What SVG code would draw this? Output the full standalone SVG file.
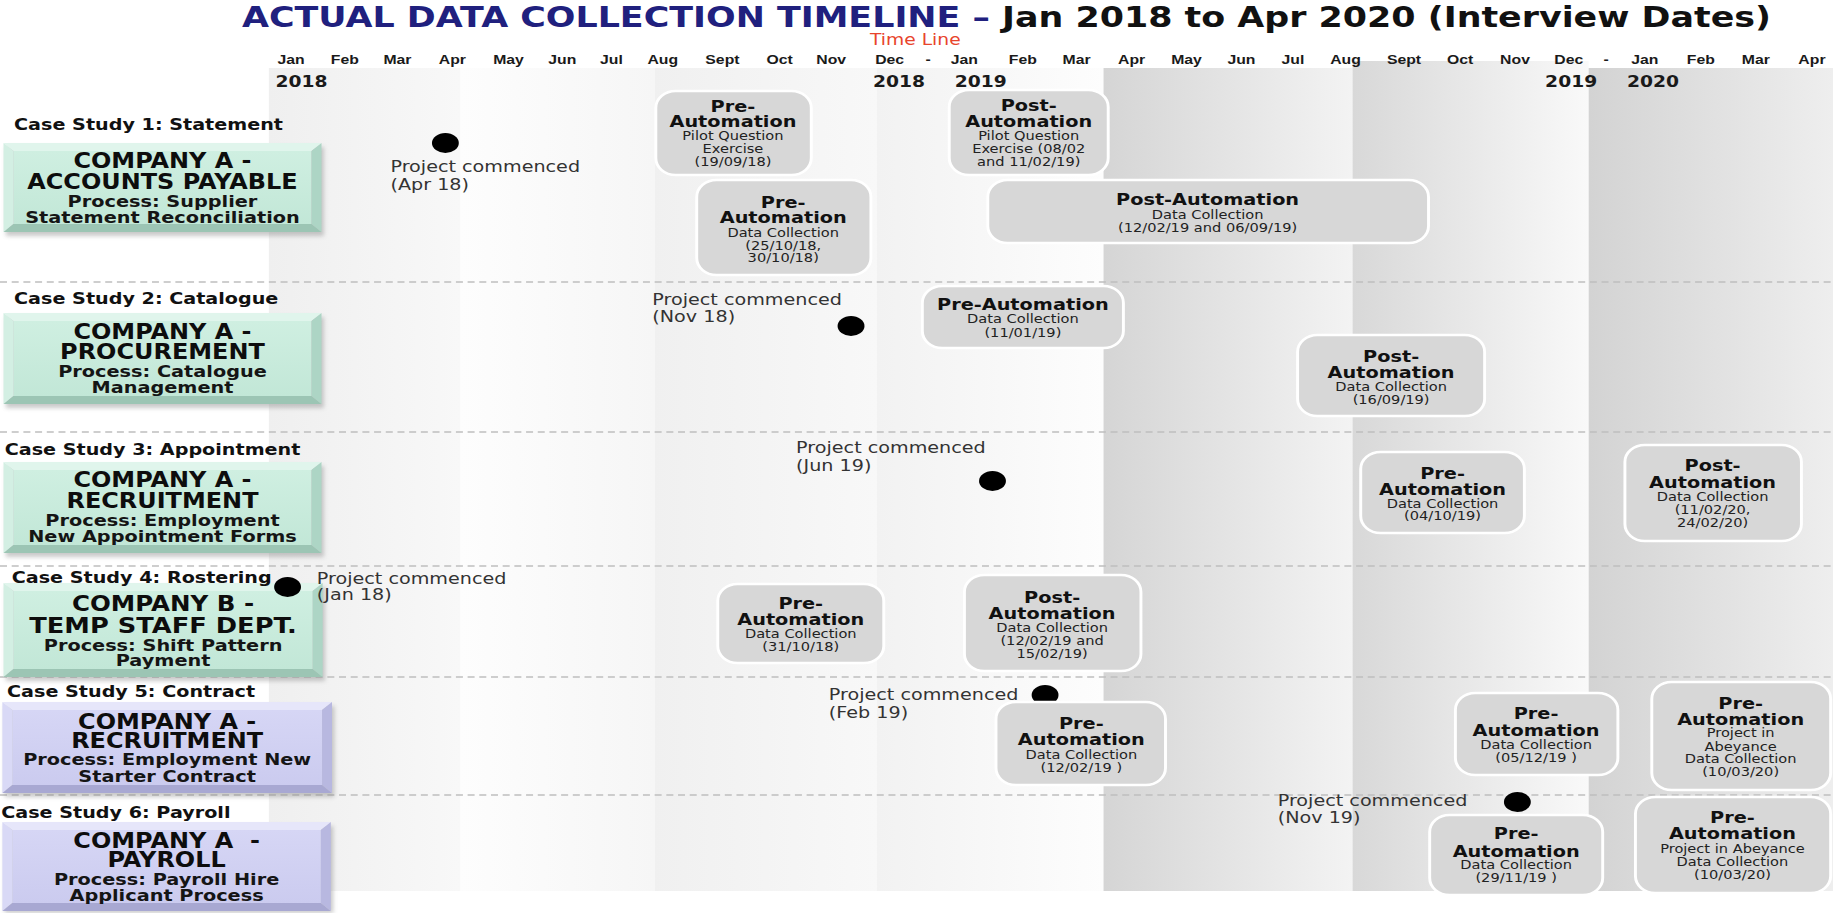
<svg xmlns="http://www.w3.org/2000/svg" width="1833" height="913" viewBox="0 0 1833 913">
<defs>
<style>
.title{font-family:"DejaVu Sans",Verdana,sans-serif;font-weight:bold;font-size:28px}
.mon{font-family:"Liberation Sans",Arial,sans-serif;font-weight:bold;font-size:13.5px;text-anchor:middle;fill:#1a1a1a}
.yr{font-family:"DejaVu Sans",Verdana,sans-serif;font-weight:bold;font-size:16px;text-anchor:middle;fill:#1a1a1a}
.tl{font-family:"DejaVu Sans",Verdana,sans-serif;font-size:16px;text-anchor:middle;fill:#e8442c}
.cs{font-family:"DejaVu Sans",Verdana,sans-serif;font-weight:bold;font-size:16.4px;fill:#111}
.cbig{font-family:"DejaVu Sans",Verdana,sans-serif;font-weight:bold;font-size:20.5px;text-anchor:middle;fill:#0d0d0d}
.csm{font-family:"DejaVu Sans",Verdana,sans-serif;font-weight:bold;font-size:16.5px;text-anchor:middle;fill:#151515}
.gb{fill:#d7d7d7;stroke:#fff;stroke-width:2.5}
.gh{font-family:"DejaVu Sans",Verdana,sans-serif;font-weight:bold;font-size:16.5px;text-anchor:middle;fill:#111}
.gs{font-family:"DejaVu Sans",Verdana,sans-serif;font-size:12.5px;text-anchor:middle;fill:#222}
.pc{font-family:"DejaVu Sans",Verdana,sans-serif;font-size:16.4px;fill:#333}
.dot{fill:#000}
.sep{stroke:#bfbfbf;stroke-width:1.3;stroke-dasharray:6 4;fill:none}
.g-top{fill:#e0f5ec}.g-left{fill:#d3efe3}.g-right{fill:#add5c5}.g-bot{fill:#9cc5b4}.g-face{fill:url(#faceG)}
.l-top{fill:#e6e6fa}.l-left{fill:#d9d9f6}.l-right{fill:#b8b8e0}.l-bot{fill:#a8a8d2}.l-face{fill:url(#faceL)}
.shadow{fill:#8a8a8a;opacity:.45;filter:url(#blur)}
.gshadow{fill:#9a9a9a;opacity:.25;filter:url(#blur)}
</style>
<linearGradient id="faceG" x1="0" y1="0" x2="0" y2="1"><stop offset="0" stop-color="#cfefe1"/><stop offset="1" stop-color="#c2e7d7"/></linearGradient>
<linearGradient id="faceL" x1="0" y1="0" x2="0" y2="1"><stop offset="0" stop-color="#d6d6f5"/><stop offset="1" stop-color="#cbcbef"/></linearGradient>
<linearGradient id="b1"><stop offset="0" stop-color="#efefef"/><stop offset="1" stop-color="#f8f8f8"/></linearGradient>
<linearGradient id="b2"><stop offset="0" stop-color="#fdfdfd"/><stop offset="1" stop-color="#f6f6f6"/></linearGradient>
<linearGradient id="b3"><stop offset="0" stop-color="#f0f0f0"/><stop offset="1" stop-color="#f8f8f8"/></linearGradient>
<linearGradient id="b4"><stop offset="0" stop-color="#f2f2f2"/><stop offset="1" stop-color="#fdfdfd"/></linearGradient>
<linearGradient id="b5"><stop offset="0" stop-color="#d5d5d5"/><stop offset="1" stop-color="#f3f3f3"/></linearGradient>
<linearGradient id="b6"><stop offset="0" stop-color="#d8d8d8"/><stop offset="1" stop-color="#f9f9f9"/></linearGradient>
<linearGradient id="b7"><stop offset="0" stop-color="#d3d3d3"/><stop offset="1" stop-color="#eeeeee"/></linearGradient>
<filter id="blur" x="-10%" y="-10%" width="120%" height="130%"><feGaussianBlur stdDeviation="2"/></filter>
</defs>
<rect width="1833" height="913" fill="#fff"/>
<!-- drawing laid out on a 1568-wide grid, stretched to the full width -->
<g transform="scale(1.169 1)">
<g id="quarter-bands">
<rect x="230" y="68" width="164" height="823" fill="url(#b1)"/>
<rect x="394" y="68" width="166" height="823" fill="url(#b2)"/>
<rect x="560" y="68" width="190" height="823" fill="url(#b3)"/>
<rect x="750" y="68" width="194" height="823" fill="url(#b4)"/>
<rect x="944" y="68" width="213" height="823" fill="url(#b5)"/>
<rect x="1157" y="61" width="202" height="830" fill="url(#b6)"/>
<rect x="1359" y="68" width="209" height="823" fill="url(#b7)"/>
</g>
<g id="row-separators">
<line class="sep" x1="0" y1="282" x2="1568" y2="282"/>
<line class="sep" x1="0" y1="432" x2="1568" y2="432"/>
<line class="sep" x1="0" y1="566" x2="1568" y2="566"/>
<line class="sep" x1="0" y1="677" x2="1568" y2="677"/>
<line class="sep" x1="0" y1="795" x2="1568" y2="795"/>
</g>
<g id="header">
<text class="title" x="207" y="27.5" textLength="1308" lengthAdjust="spacingAndGlyphs"><tspan fill="#20207e">ACTUAL DATA COLLECTION TIMELINE – </tspan><tspan fill="#111">Jan 2018 to Apr 2020 (Interview Dates)</tspan></text>
<text class="tl" x="783" y="45">Time Line</text>
<g class="mon">
<text class="mon" x="249" y="64">Jan</text><text class="mon" x="295" y="64">Feb</text><text class="mon" x="340" y="64">Mar</text><text class="mon" x="387" y="64">Apr</text>
<text class="mon" x="435" y="64">May</text><text class="mon" x="481" y="64">Jun</text><text class="mon" x="523" y="64">Jul</text><text class="mon" x="567" y="64">Aug</text>
<text class="mon" x="618" y="64">Sept</text><text class="mon" x="667" y="64">Oct</text><text class="mon" x="711" y="64">Nov</text><text class="mon" x="761" y="64">Dec</text>
<text class="mon" x="794" y="64">-</text>
<text class="mon" x="825" y="64">Jan</text><text class="mon" x="875" y="64">Feb</text><text class="mon" x="921" y="64">Mar</text><text class="mon" x="968" y="64">Apr</text>
<text class="mon" x="1015" y="64">May</text><text class="mon" x="1062" y="64">Jun</text><text class="mon" x="1106" y="64">Jul</text><text class="mon" x="1151" y="64">Aug</text>
<text class="mon" x="1201" y="64">Sept</text><text class="mon" x="1249" y="64">Oct</text><text class="mon" x="1296" y="64">Nov</text><text class="mon" x="1342" y="64">Dec</text>
<text class="mon" x="1374" y="64">-</text>
<text class="mon" x="1407" y="64">Jan</text><text class="mon" x="1455" y="64">Feb</text><text class="mon" x="1502" y="64">Mar</text><text class="mon" x="1550" y="64">Apr</text>
</g>
<text class="yr" x="258" y="87">2018</text>
<text class="yr" x="769" y="87">2018</text>
<text class="yr" x="839" y="87">2019</text>
<text class="yr" x="1344" y="87">2019</text>
<text class="yr" x="1414" y="87">2020</text>
</g>

<!-- company process boxes (bevelled) -->
<g id="company-1">
<rect class="shadow" x="5" y="147" width="272" height="89"/>
<g transform="translate(3 143)">
<rect class="g-face" x="8.5" y="8" width="255" height="73"/>
<polygon class="g-top" points="0,0 272,0 263.5,8 8.5,8"/>
<polygon class="g-left" points="0,0 8.5,8 8.5,81 0,89"/>
<polygon class="g-bot" points="0,89 8.5,81 263.5,81 272,89"/>
<polygon class="g-right" points="272,0 272,89 263.5,81 263.5,8"/>
</g>
<text class="cbig" x="139" y="168">COMPANY A -</text>
<text class="cbig" x="139" y="189.5">ACCOUNTS PAYABLE</text>
<text class="csm" x="139" y="207">Process: Supplier</text>
<text class="csm" x="139" y="223.5">Statement Reconciliation</text>
</g>
<g id="company-2">
<rect class="shadow" x="5" y="317" width="272" height="91"/>
<g transform="translate(3 313)">
<rect class="g-face" x="8.5" y="8" width="255" height="75"/>
<polygon class="g-top" points="0,0 272,0 263.5,8 8.5,8"/>
<polygon class="g-left" points="0,0 8.5,8 8.5,83 0,91"/>
<polygon class="g-bot" points="0,91 8.5,83 263.5,83 272,91"/>
<polygon class="g-right" points="272,0 272,91 263.5,83 263.5,8"/>
</g>
<text class="cbig" x="139" y="339.5">COMPANY A -</text>
<text class="cbig" x="139" y="359.5">PROCUREMENT</text>
<text class="csm" x="139" y="377">Process: Catalogue</text>
<text class="csm" x="139" y="393.5">Management</text>
</g>
<g id="company-3">
<rect class="shadow" x="5" y="466" width="272" height="91"/>
<g transform="translate(3 462)">
<rect class="g-face" x="8.5" y="8" width="255" height="75"/>
<polygon class="g-top" points="0,0 272,0 263.5,8 8.5,8"/>
<polygon class="g-left" points="0,0 8.5,8 8.5,83 0,91"/>
<polygon class="g-bot" points="0,91 8.5,83 263.5,83 272,91"/>
<polygon class="g-right" points="272,0 272,91 263.5,83 263.5,8"/>
</g>
<text class="cbig" x="139" y="487.5">COMPANY A -</text>
<text class="cbig" x="139" y="508.5">RECRUITMENT</text>
<text class="csm" x="139" y="526">Process: Employment</text>
<text class="csm" x="139" y="542">New Appointment Forms</text>
</g>
<g id="company-4">
<rect class="shadow" x="5" y="587" width="273" height="94"/>
<g transform="translate(3 583)">
<rect class="g-face" x="8.5" y="8" width="256" height="78"/>
<polygon class="g-top" points="0,0 273,0 264.5,8 8.5,8"/>
<polygon class="g-left" points="0,0 8.5,8 8.5,86 0,94"/>
<polygon class="g-bot" points="0,94 8.5,86 264.5,86 273,94"/>
<polygon class="g-right" points="273,0 273,94 264.5,86 264.5,8"/>
</g>
<text class="cbig" x="139.5" y="611" style="font-size:21px">COMPANY B -</text>
<text class="cbig" x="139.5" y="633" style="font-size:22px">TEMP STAFF DEPT.</text>
<text class="csm" x="139.5" y="651">Process: Shift Pattern</text>
<text class="csm" x="139.5" y="666.5">Payment</text>
</g>
<g id="company-5">
<rect class="shadow" x="4" y="706" width="282" height="91"/>
<g transform="translate(2 702)">
<rect class="l-face" x="8.5" y="8" width="265" height="75"/>
<polygon class="l-top" points="0,0 282,0 273.5,8 8.5,8"/>
<polygon class="l-left" points="0,0 8.5,8 8.5,83 0,91"/>
<polygon class="l-bot" points="0,91 8.5,83 273.5,83 282,91"/>
<polygon class="l-right" points="282,0 282,91 273.5,83 273.5,8"/>
</g>
<text class="cbig" x="143" y="729.5">COMPANY A -</text>
<text class="cbig" x="143" y="748.5">RECRUITMENT</text>
<text class="csm" x="143" y="765.5">Process: Employment New</text>
<text class="csm" x="143" y="782">Starter Contract</text>
</g>
<g id="company-6">
<rect class="shadow" x="4" y="826" width="281" height="87"/>
<g transform="translate(2 822)">
<rect class="l-face" x="8.5" y="8" width="264" height="73"/>
<polygon class="l-top" points="0,0 281,0 272.5,8 8.5,8"/>
<polygon class="l-left" points="0,0 8.5,8 8.5,81 0,89"/>
<polygon class="l-bot" points="0,89 8.5,81 272.5,81 281,89"/>
<polygon class="l-right" points="281,0 281,89 272.5,81 272.5,8"/>
</g>
<text class="cbig" x="142.5" y="848.5" xml:space="preserve">COMPANY A  -</text>
<text class="cbig" x="142.5" y="867.5">PAYROLL</text>
<text class="csm" x="142.5" y="885.5">Process: Payroll Hire</text>
<text class="csm" x="142.5" y="901.5">Applicant Process</text>
</g>

<g id="case-study-labels">
<text class="cs" x="12" y="130">Case Study 1: Statement</text>
<text class="cs" x="12" y="304">Case Study 2: Catalogue</text>
<text class="cs" x="4" y="455">Case Study 3: Appointment</text>
<text class="cs" x="10" y="583">Case Study 4: Rostering</text>
<text class="cs" x="6" y="697">Case Study 5: Contract</text>
<text class="cs" x="1" y="818">Case Study 6: Payroll</text>
</g>

<!-- project start markers -->
<g id="start-1"><ellipse class="dot" cx="381" cy="143" rx="11.5" ry="10"/><text class="pc" x="334" y="172">Project commenced</text><text class="pc" x="334" y="190">(Apr 18)</text></g>
<g id="start-2"><ellipse class="dot" cx="728" cy="326" rx="11.5" ry="10"/><text class="pc" x="558" y="305">Project commenced</text><text class="pc" x="558" y="322">(Nov 18)</text></g>
<g id="start-3"><ellipse class="dot" cx="849" cy="481" rx="11.5" ry="10"/><text class="pc" x="681" y="453">Project commenced</text><text class="pc" x="681" y="471">(Jun 19)</text></g>
<g id="start-4"><ellipse class="dot" cx="246" cy="587" rx="11.5" ry="10"/><text class="pc" x="271" y="584">Project commenced</text><text class="pc" x="271" y="600">(Jan 18)</text></g>
<g id="start-5"><ellipse class="dot" cx="894" cy="695" rx="11.5" ry="10"/><text class="pc" x="709" y="700">Project commenced</text><text class="pc" x="709" y="718">(Feb 19)</text></g>
<g id="start-6"><ellipse class="dot" cx="1298" cy="802" rx="11.5" ry="10"/><text class="pc" x="1093" y="806">Project commenced</text><text class="pc" x="1093" y="823">(Nov 19)</text></g>

<!-- data collection events -->
<g id="cs1-pre-pilot"><rect class="gb" x="561" y="91" width="133" height="84" rx="17" ry="17"/>
<text class="gh" x="627" y="112">Pre-</text><text class="gh" x="627" y="127">Automation</text>
<text class="gs" x="627" y="140.5">Pilot Question</text><text class="gs" x="627" y="153.5">Exercise</text><text class="gs" x="627" y="166.5">(19/09/18)</text></g>
<g id="cs1-post-pilot"><rect class="gb" x="812" y="90" width="136" height="85" rx="17" ry="17"/>
<text class="gh" x="880" y="111">Post-</text><text class="gh" x="880" y="127">Automation</text>
<text class="gs" x="880" y="140.5">Pilot Question</text><text class="gs" x="880" y="153.5">Exercise (08/02</text><text class="gs" x="880" y="166.5">and 11/02/19)</text></g>
<g id="cs1-pre-data"><rect class="gb" x="596" y="180" width="149" height="95" rx="17" ry="17"/>
<text class="gh" x="670" y="208">Pre-</text><text class="gh" x="670" y="223">Automation</text>
<text class="gs" x="670" y="237.5">Data Collection</text><text class="gs" x="670" y="250">(25/10/18,</text><text class="gs" x="670" y="262.5">30/10/18)</text></g>
<g id="cs1-post-data"><rect class="gb" x="845" y="180" width="377" height="63" rx="17" ry="17"/>
<text class="gh" x="1033" y="205">Post-Automation</text>
<text class="gs" x="1033" y="219.5">Data Collection</text><text class="gs" x="1033" y="232">(12/02/19 and 06/09/19)</text></g>
<g id="cs2-pre"><rect class="gb" x="789" y="286" width="172" height="62" rx="17" ry="17"/>
<text class="gh" x="875" y="310.5">Pre-Automation</text>
<text class="gs" x="875" y="323.5">Data Collection</text><text class="gs" x="875" y="337">(11/01/19)</text></g>
<g id="cs2-post"><rect class="gb" x="1110" y="335" width="160" height="81" rx="17" ry="17"/>
<text class="gh" x="1190" y="362">Post-</text><text class="gh" x="1190" y="378">Automation</text>
<text class="gs" x="1190" y="391.5">Data Collection</text><text class="gs" x="1190" y="404.5">(16/09/19)</text></g>
<g id="cs3-pre"><rect class="gb" x="1164" y="452" width="140" height="81" rx="17" ry="17"/>
<text class="gh" x="1234" y="479">Pre-</text><text class="gh" x="1234" y="495">Automation</text>
<text class="gs" x="1234" y="508">Data Collection</text><text class="gs" x="1234" y="520.5">(04/10/19)</text></g>
<g id="cs3-post"><rect class="gb" x="1390" y="445" width="151" height="96" rx="17" ry="17"/>
<text class="gh" x="1465" y="471">Post-</text><text class="gh" x="1465" y="488">Automation</text>
<text class="gs" x="1465" y="501.5">Data Collection</text><text class="gs" x="1465" y="514.5">(11/02/20,</text><text class="gs" x="1465" y="527">24/02/20)</text></g>
<g id="cs4-pre"><rect class="gb" x="614" y="584" width="142" height="79" rx="17" ry="17"/>
<text class="gh" x="685" y="609">Pre-</text><text class="gh" x="685" y="625">Automation</text>
<text class="gs" x="685" y="638.5">Data Collection</text><text class="gs" x="685" y="651.5">(31/10/18)</text></g>
<g id="cs4-post"><rect class="gb" x="825" y="575" width="151" height="96" rx="17" ry="17"/>
<text class="gh" x="900" y="603">Post-</text><text class="gh" x="900" y="619">Automation</text>
<text class="gs" x="900" y="632.5">Data Collection</text><text class="gs" x="900" y="645.5">(12/02/19 and</text><text class="gs" x="900" y="658">15/02/19)</text></g>
<g id="cs5-pre-1"><rect class="gb" x="852" y="702" width="145" height="83" rx="17" ry="17"/>
<text class="gh" x="925" y="729">Pre-</text><text class="gh" x="925" y="745">Automation</text>
<text class="gs" x="925" y="759.5">Data Collection</text><text class="gs" x="925" y="772.5" xml:space="preserve">(12/02/19 )</text></g>
<g id="cs5-pre-2"><rect class="gb" x="1245" y="693" width="139" height="82" rx="17" ry="17"/>
<text class="gh" x="1314" y="719">Pre-</text><text class="gh" x="1314" y="736">Automation</text>
<text class="gs" x="1314" y="749">Data Collection</text><text class="gs" x="1314" y="762">(05/12/19 )</text></g>
<g id="cs5-abeyance"><rect class="gb" x="1413" y="682" width="153" height="108" rx="17" ry="17"/>
<text class="gh" x="1489" y="709">Pre-</text><text class="gh" x="1489" y="725">Automation</text>
<text class="gs" x="1489" y="737.5">Project in</text><text class="gs" x="1489" y="751">Abeyance</text>
<text class="gs" x="1489" y="763.5">Data Collection</text><text class="gs" x="1489" y="776.5">(10/03/20)</text></g>
<g id="cs6-pre"><rect class="gb" x="1223" y="815" width="148" height="80" rx="17" ry="17"/>
<text class="gh" x="1297" y="839">Pre-</text><text class="gh" x="1297" y="857">Automation</text>
<text class="gs" x="1297" y="869.5">Data Collection</text><text class="gs" x="1297" y="882.5" xml:space="preserve">(29/11/19 )</text></g>
<g id="cs6-abeyance"><rect class="gb" x="1399" y="797" width="167" height="96" rx="17" ry="17"/>
<text class="gh" x="1482" y="823">Pre-</text><text class="gh" x="1482" y="839">Automation</text>
<text class="gs" x="1482" y="853.5">Project in Abeyance</text><text class="gs" x="1482" y="866.5">Data Collection</text><text class="gs" x="1482" y="879">(10/03/20)</text></g>
</g>
</svg>
